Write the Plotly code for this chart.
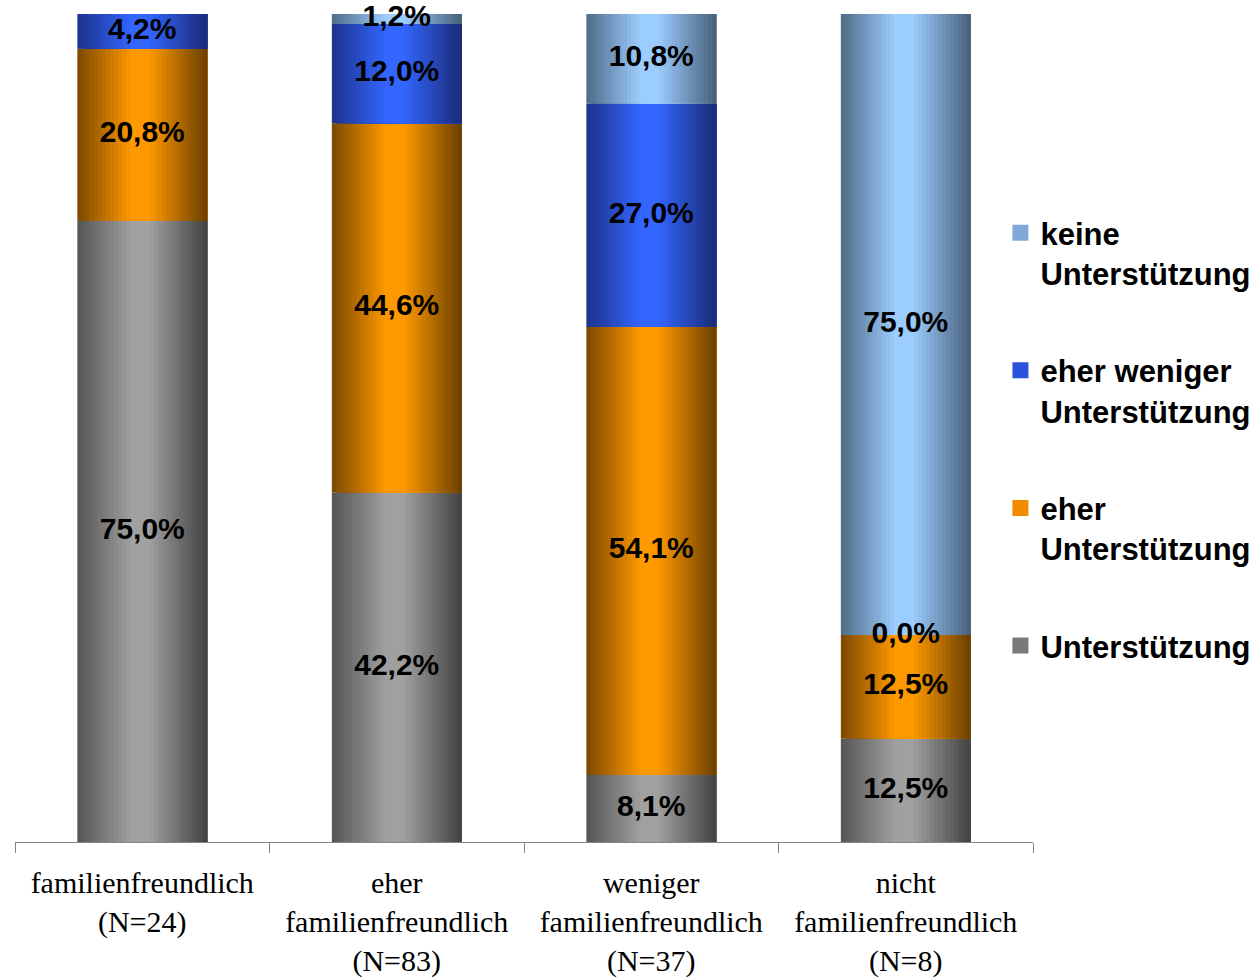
import plotly.graph_objects as go

# ---- data ----
categories = [
    "familienfreundlich<br>(N=24)",
    "eher<br>familienfreundlich<br>(N=83)",
    "weniger<br>familienfreundlich<br>(N=37)",
    "nicht<br>familienfreundlich<br>(N=8)",
]
unterstuetzung = [75.0, 42.2, 8.1, 12.5]
eher_unterstuetzung = [20.8, 44.6, 54.1, 12.5]
eher_weniger_unterstuetzung = [4.2, 12.0, 27.0, 0.0]
keine_unterstuetzung = [None, 1.2, 10.8, 75.0]

series_names = [
    "Unterstützung",
    "eher<br>Unterstützung",
    "eher weniger<br>Unterstützung",
    "keine<br>Unterstützung",
]
series_values = [unterstuetzung, eher_unterstuetzung,
                 eher_weniger_unterstuetzung, keine_unterstuetzung]

# (left edge, peak, right edge) colours for the cylinder-like shading
series_colors = [
    ("#555555", "#a0a0a0", "#424242"),
    ("#7a4800", "#ff9900", "#6a3f00"),
    ("#1d328c", "#3366ff", "#1a2b76"),
    ("#4f6b87", "#9ccdff", "#476079"),
]
legend_colors = ["#7a7a7a", "#f08c00", "#2a52dd", "#7fa8d6"]

BAR_W = 0.51
N_SLICES = 32


def hex2rgb(h):
    h = h.lstrip("#")
    return tuple(int(h[i:i + 2], 16) for i in (0, 2, 4))


def mix(c1, c2, t):
    a, b = hex2rgb(c1), hex2rgb(c2)
    return "rgb(%d,%d,%d)" % tuple(round(a[k] + (b[k] - a[k]) * t) for k in range(3))


def shade(cols, t):
    left, peak, right = cols
    if t < 0.42:
        return mix(left, peak, t / 0.42)
    if t < 0.55:
        return peak
    return mix(peak, right, (t - 0.55) / 0.45)


def fmt(v):
    return ("%.1f" % v).replace(".", ",") + "%"


fig = go.Figure()

bases = [0.0] * len(categories)
label_x, label_y, label_t = [], [], []
for name, vals, cols in zip(series_names, series_values, series_colors):
    ys = [v if v is not None else 0 for v in vals]
    for i in range(N_SLICES):
        t0 = i / N_SLICES
        fig.add_trace(go.Bar(
            x=categories, y=ys, base=bases,
            width=BAR_W * (1 - t0), offset=-BAR_W / 2 + BAR_W * t0,
            marker=dict(color=shade(cols, (i + 0.5) / N_SLICES), line=dict(width=0)),
            showlegend=False, hoverinfo="skip",
        ))
    for c, b, v in zip(categories, bases, vals):
        if v is not None:
            label_x.append(c)
            label_y.append(b + v / 2)
            label_t.append(fmt(v))
    bases = [b + y for b, y in zip(bases, ys)]

fig.add_trace(go.Scatter(
    x=label_x, y=label_y, text=label_t, mode="text", cliponaxis=False,
    textfont=dict(family="Liberation Sans", size=30, color="black", weight="bold"),
    showlegend=False, hoverinfo="skip",
))

# legend entries (top to bottom: keine ... Unterstützung)
for k, (name, col) in enumerate(zip(series_names, legend_colors)):
    fig.add_trace(go.Scatter(
        x=[None], y=[None], mode="markers", name=name,
        marker=dict(symbol="square", size=16, color=col),
        legendgroup="g%d" % k, legendrank=100 - k,
    ))

fig.update_layout(
    width=1260, height=980,
    barmode="overlay",
    paper_bgcolor="white", plot_bgcolor="white",
    margin=dict(l=15, r=227, t=14, b=138, autoexpand=False),
    showlegend=True,
    legend=dict(
        x=0.968, xanchor="left", y=0.768, yanchor="top",
        font=dict(family="Liberation Sans", size=31, color="black", weight="bold"),
        tracegroupgap=54, valign="top", bgcolor="rgba(0,0,0,0)",
        itemsizing="trace",
    ),
    xaxis=dict(
        type="category", range=[-0.5, 3.5], automargin=False,
        showline=True, linecolor="#868686", linewidth=1,
        ticks="outside", tickson="boundaries", ticklen=10, tickcolor="#868686",
        tickfont=dict(family="Liberation Serif", size=30, color="black"),
        ticklabelstandoff=14,
        showgrid=False, zeroline=False, fixedrange=True,
    ),
    yaxis=dict(range=[0, 100], visible=False, showgrid=False, zeroline=False,
               automargin=False),
)

fig.write_html("out.html", config={"displayModeBar": False},
               post_script="document.body.style.margin='0';document.body.style.padding='0';")
